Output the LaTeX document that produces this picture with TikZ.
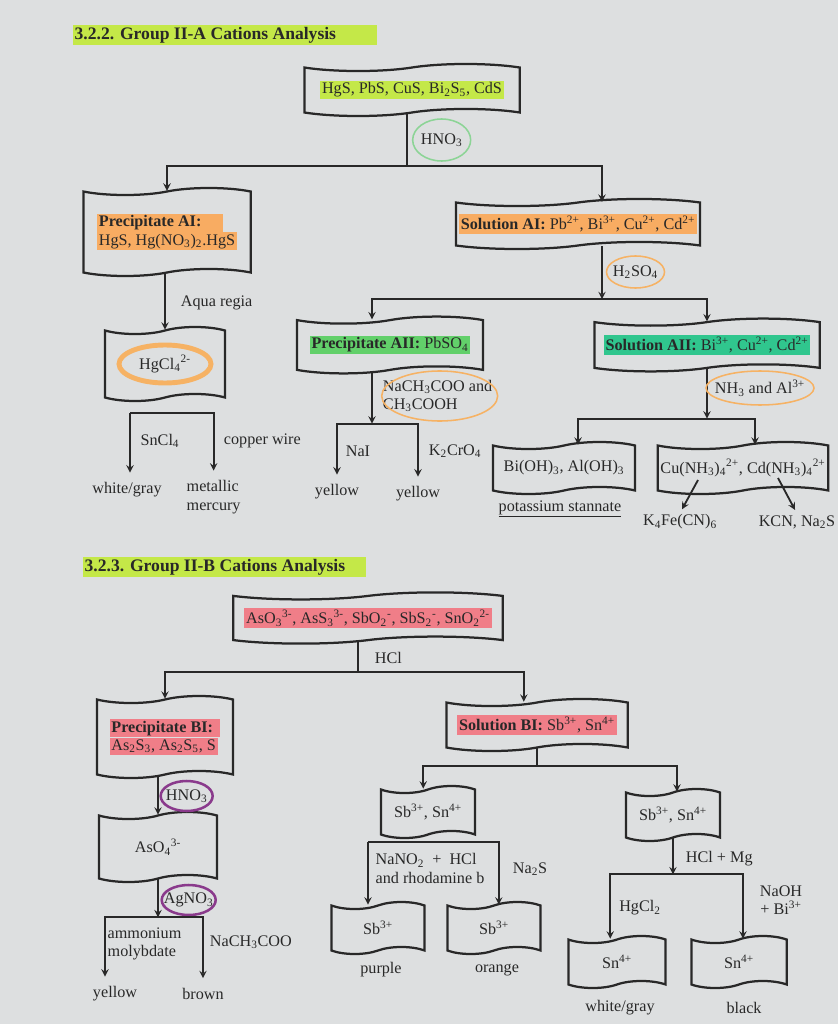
\documentclass[tikz,border=0pt]{standalone}
\usepackage{fontspec}
\setmainfont{Liberation Serif}
\usepackage{xcolor}
\usetikzlibrary{shapes.symbols,shapes.geometric,arrows,positioning}
\definecolor{pagegray}{RGB}{221,223,224}
\definecolor{inkgray}{RGB}{40,40,40}
\definecolor{hllime}{RGB}{196,232,72}
\definecolor{hlorange}{RGB}{248,172,98}
\definecolor{hlgreen}{RGB}{98,208,106}
\definecolor{hlteal}{RGB}{48,198,142}
\definecolor{hlpink}{RGB}{240,126,136}
\definecolor{penorange}{RGB}{246,178,100}
\definecolor{pengreen}{RGB}{140,212,150}
\definecolor{penpurple}{RGB}{138,58,140}

\newcommand{\hl}[2]{{\setlength{\fboxsep}{1.2pt}\colorbox{#1}{#2}}}
\newcommand{\ssub}[1]{\textsubscript{#1}}
\newcommand{\ssup}[1]{\textsuperscript{#1}}

\begin{document}
\begin{tikzpicture}[x=0.025cm, y=-0.025cm, text=inkgray,
    font=\fontsize{11.5}{13}\selectfont,
    sample/.style={tape, draw=inkgray, line width=1.6pt, tape bend height=5pt,
                   inner sep=2pt, align=center},
    heading/.style={anchor=west, font=\fontsize{12.5}{14}\selectfont\bfseries},
    ring/.style={draw=#1, line width=1.1pt},
    line/.style={draw=inkgray, line width=1.3pt},
    arrow/.style={line,->,>=stealth},
    result/.style={inner sep=1pt}]

\fill[pagegray] (0,0) rectangle (838,1024);

% ---------- Group II-A ----------
\node[heading] (titleA) at (68,35) {\hl{hllime}{3.2.2. Group II-A Cations Analysis\hspace{28pt}}};

\node[sample, minimum width=5.38cm, minimum height=1.3cm] (mixA) at (412,90)
    {\hl{hllime}{HgS, PbS, CuS, Bi\ssub{2}S\ssub{5}, CdS}};
\draw[line] ([xshift=-0.12cm]mixA.south) -- ++(0,53) coordinate (forkA);
\node[anchor=west] (hno) at (416,140) {HNO\ssub{3}};
\draw[ring=pengreen] (hno.center) ellipse (29 and 21);

\node[sample, minimum width=4.18cm, minimum height=2.2cm, align=left] (precAI) at (167,232)
    {\hl{hlorange}{\textbf{Precipitate AI:}\hspace{14pt}}\\ \hl{hlorange}{HgS, Hg(NO\ssub{3})\ssub{2}.HgS}};
\node[sample, minimum width=6.1cm, minimum height=1.25cm] (solAI) at (578,224)
    {\hl{hlorange}{\textbf{Solution AI:} Pb\ssup{2+}, Bi\ssup{3+}, Cu\ssup{2+}, Cd\ssup{2+}}};
\draw[arrow] (forkA) -| (precAI.north);
\draw[arrow] (forkA) -| ([xshift=0.6cm]solAI.north);

% Aqua regia branch
\node[sample, minimum width=3cm, minimum height=1.85cm] (hgcl) at (165,364) {HgCl\ssub{4}\ssup{2-}};
\draw[penorange, line width=3.5pt] (hgcl.center) ellipse (46 and 19);
\draw[arrow] (precAI.south -| hgcl) -- (hgcl.north);
\node[anchor=west] (aqua) at (176,303) {Aqua regia};

\coordinate (forkHg) at (130,413);
\node[result] (whiteA) at (127,490) {white/gray};
\node[result, align=left, anchor=north west] (mercury) at (185,479) {metallic\\mercury};
\draw[arrow, shorten >=6pt] (forkHg) -- (forkHg |- whiteA.north);
\draw[arrow, shorten >=6pt] (forkHg) -| (mercury.north);
\node (sncl) at (160,441) {SnCl\ssub{4}};
\node[anchor=west] (cuwire) at (219,441) {copper wire};

% H2SO4 branch
\draw[arrow] ([xshift=0.6cm]solAI.south) -- ++(0,53) coordinate (forkB);
\node[anchor=west] (hso) at (608,272) {H\ssub{2}SO\ssub{4}};
\draw[ring=penorange] (hso.center) ellipse (29 and 16);

\node[sample, minimum width=4.65cm, minimum height=1.42cm] (precAII) at (390,345)
    {\hl{hlgreen}{\textbf{Precipitate AII:} PbSO\ssub{4}}};
\node[sample, minimum width=5.63cm, minimum height=1.32cm] (solAII) at (707,345)
    {\hl{hlteal}{\textbf{Solution AII:} Bi\ssup{3+}, Cu\ssup{2+}, Cd\ssup{2+}}};
\draw[arrow] (forkB) -| ([xshift=-0.45cm]precAII.north);
\draw[arrow] (forkB) -| (solAII.north);

% lead branch
\draw[arrow] ([xshift=-0.45cm]precAII.south) -- ++(0,53) coordinate (forkC);
\node[anchor=west, align=left] (acetate) at (378,396)
    {NaCH\ssub{3}COO and\\CH\ssub{3}COOH};
\draw[ring=penorange] ([xshift=1.5pt]acetate.center) ellipse (58 and 25);
\node[result] (yellowA) at (337,492) {yellow};
\node[result] (yellowB) at (418,494) {yellow};
\draw[arrow, shorten >=6pt] (forkC) -| (yellowA.north);
\draw[arrow, shorten >=6pt] (forkC) -| (yellowB.north);
\node (nai) at (358,451) {NaI};
\node[anchor=west] (chromate) at (424,451) {K\ssub{2}CrO\ssub{4}};

% ammonia branch
\draw[arrow] (solAII.south) -- ++(0,50) coordinate (forkD);
\node[anchor=west] (ammonia) at (710,388) {NH\ssub{3} and Al\ssup{3+}};
\draw[ring=penorange] (ammonia.center) ellipse (54 and 17);

\node[sample, minimum width=3.55cm, minimum height=1.3cm] (hydrox) at (564,468)
    {Bi(OH)\ssub{3}, Al(OH)\ssub{3}};
\node[sample, minimum width=4.25cm, minimum height=1.3cm] (ammine) at (743,468)
    {Cu(NH\ssub{3})\ssub{4}\ssup{2+}, Cd(NH\ssub{3})\ssub{4}\ssup{2+}};
\draw[arrow] (forkD) -| ([xshift=0.35cm]hydrox.north);
\draw[arrow] (forkD) -| ([xshift=0.3cm]ammine.north);

\node (stannate) at (560,509) {\underline{potassium stannate}};
\node[result] (ferro) at (680,522) {K\ssub{4}Fe(CN)\ssub{6}};
\node[result] (cyanide) at (797,522) {KCN, Na\ssub{2}S};
\draw[arrow, shorten >=3pt] ([shift={(-45,12)}]ammine.center) -- (ferro.north);
\draw[arrow, shorten >=3pt] ([shift={(35,10)}]ammine.center) -- (cyanide.north);

% ---------- Group II-B ----------
\node[heading] (titleB) at (78,567) {\hl{hllime}{3.2.3. Group II-B Cations Analysis\hspace{14pt}}};

\node[sample, minimum width=6.73cm, minimum height=1.28cm] (mixB) at (368,618)
    {\hl{hlpink}{AsO\ssub{3}\ssup{3-}, AsS\ssub{3}\ssup{3-}, SbO\ssub{2}\ssup{-}, SbS\ssub{2}\ssup{-}, SnO\ssub{2}\ssup{2-}}};
\draw[line] ([xshift=-0.25cm]mixB.south) -- ++(0,31) coordinate (forkE);
\node[anchor=west] (hcl) at (370,658) {HCl};

\node[sample, minimum width=3.4cm, minimum height=2.05cm, align=left] (precBI) at (165,737)
    {\hl{hlpink}{\textbf{Precipitate BI:}\hspace{4pt}}\\ \hl{hlpink}{As\ssub{2}S\ssub{3}, As\ssub{2}S\ssub{5}, S}};
\node[sample, minimum width=4.53cm, minimum height=1.3cm] (solBI) at (537,725)
    {\hl{hlpink}{\textbf{Solution BI:} Sb\ssup{3+}, Sn\ssup{4+}}};
\draw[arrow] (forkE) -| (precBI.north);
\draw[arrow] (forkE) -| ([xshift=-0.33cm]solBI.north);

% arsenic branch
\node[sample, minimum width=2.95cm, minimum height=1.75cm] (arsen) at (158,847) {AsO\ssub{4}\ssup{3-}};
\draw[arrow] (precBI.south -| arsen) -- (arsen.north);
\node[anchor=west] (hnoB) at (161,796) {HNO\ssub{3}};
\draw[ring=penpurple, line width=1.8pt] (hnoB.center) ellipse (26 and 15);
\draw[arrow] (arsen.south) -- ++(0,38) coordinate (forkF);
\node[anchor=west] (silver) at (159,900) {AgNO\ssub{3}};
\draw[ring=penpurple, line width=1.8pt] (silver.center) ellipse (27 and 15);

\node[result] (yellowC) at (115,994) {yellow};
\node[result] (brown) at (203,994) {brown};
\draw[arrow, shorten >=6pt] (forkF) -| ([shift={(-10,0)}]yellowC.north);
\draw[arrow, shorten >=6pt] (forkF) -| (brown.north);
\node[anchor=north west, align=left, inner sep=1pt] (molyb) at (106,926) {ammonium\\molybdate};
\node[anchor=west] (acetB) at (205,942) {NaCH\ssub{3}COO};

% antimony / tin branch
\draw[line] (solBI.south) -- ++(0,18) coordinate (forkG);
\node[sample, minimum width=2.35cm, minimum height=1.3cm] (sbsnL) at (428,812) {Sb\ssup{3+}, Sn\ssup{4+}};
\node[sample, minimum width=2.35cm, minimum height=1.3cm] (sbsnR) at (673,815) {Sb\ssup{3+}, Sn\ssup{4+}};
\draw[arrow] (forkG) -| ([xshift=-0.12cm]sbsnL.north);
\draw[arrow] (forkG) -| ([xshift=0.1cm]sbsnR.north);

\node[sample, minimum width=2.33cm, minimum height=1.3cm] (sbP) at (378,928) {Sb\ssup{3+}};
\node[sample, minimum width=2.33cm, minimum height=1.3cm] (sbO) at (494,928) {Sb\ssup{3+}};
\coordinate (forkH) at (368,842);
\draw[arrow] (forkH) -- (forkH |- sbP.north);
\draw[arrow] (forkH) -| ([xshift=0.12cm]sbO.north);
\node[anchor=north west, align=left, inner sep=1pt] (rhodamine) at (374,852)
    {NaNO\ssub{2}\ \ +\ \ HCl\\and rhodamine b};
\node[anchor=west] (sulfide) at (508,869) {Na\ssub{2}S};
\node[result] (purple) at (381,970) {purple};
\node[result] (orange) at (497,970) {orange};

\draw[arrow] (sbsnR.south) -- ++(0,36) coordinate (forkI);
\node[anchor=west] (mg) at (681,859) {HCl + Mg};
\node[sample, minimum width=2.43cm, minimum height=1.3cm] (snW) at (617,962) {Sn\ssup{4+}};
\node[sample, minimum width=2.38cm, minimum height=1.3cm] (snB) at (739,962) {Sn\ssup{4+}};
\draw[arrow] (forkI) -| ([xshift=-0.17cm]snW.north);
\draw[arrow] (forkI) -| ([xshift=0.1cm]snB.north);
\node (mercuric) at (640,908) {HgCl\ssub{2}};
\node[align=center] (naoh) at (781,900) {NaOH\\+ Bi\ssup{3+}};
\node[result] (whiteB) at (620,1008) {white/gray};
\node[result] (black) at (744,1008) {black};

\end{tikzpicture}
\end{document}
